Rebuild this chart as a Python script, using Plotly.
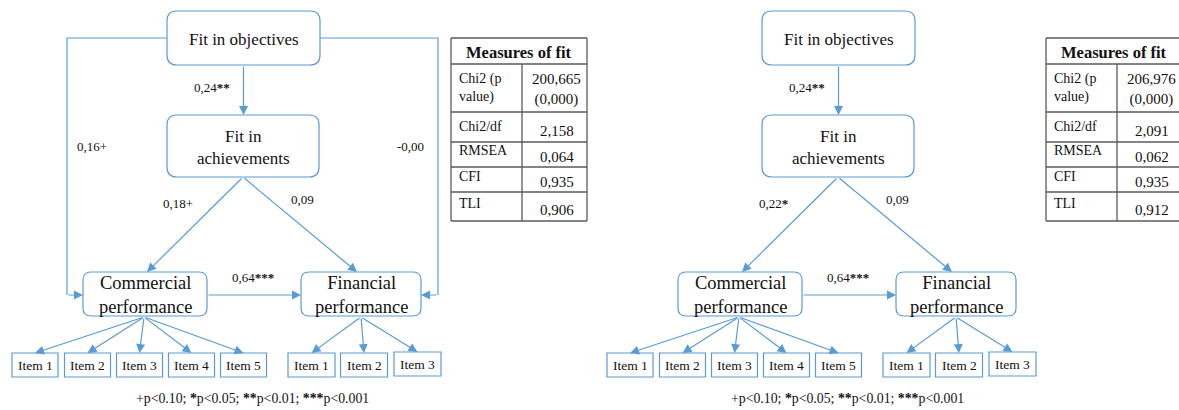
import re
import plotly.graph_objects as go

# ---- content ---------------------------------------------------------------
construct_labels = ["Fit in objectives", "Fit in<br>achievements",
                    "Commercial<br>performance", "Financial<br>performance"]
commercial_items = ["Item 1", "Item 2", "Item 3", "Item 4", "Item 5"]
financial_items = ["Item 1", "Item 2", "Item 3"]

# path coefficients: obj->ach, obj->com, obj->fin, ach->com, ach->fin, com->fin
coef_model_a = ["0,24**", "0,16+", "-0,00", "0,18+", "0,09", "0,64***"]
coef_model_b = ["0,24**", None, None, "0,22*", "0,09", "0,64***"]

fit_header = "Measures of fit"
fit_measures = ["Chi2 (p<br>value)", "Chi2/df", "RMSEA", "CFI", "TLI"]
fit_model_a = ["200,665<br>(0,000)", "2,158", "0,064", "0,935", "0,906"]
fit_model_b = ["206,976<br>(0,000)", "2,091", "0,062", "0,935", "0,912"]

significance_note = "+p<0.10; *p<0.05; **p<0.01; ***p<0.001"

# ---- styling ---------------------------------------------------------------
W, H = 1179, 410
BLUE = "#5b9bd5"
GRID = "#5a5a5a"
INK = "#111111"
FONT = "'Liberation Serif', 'Times New Roman', Tinos, 'DejaVu Serif', serif"
LW = 1.2

shapes = []
annotations = []


def stars_bold(t):
    return re.sub(r"(\*+)", r"<b>\1</b>", t)


def rounded_box(x0, y0, x1, y1, r):
    path = (f"M{x0+r},{y0} L{x1-r},{y0} Q{x1},{y0} {x1},{y0+r} "
            f"L{x1},{y1-r} Q{x1},{y1} {x1-r},{y1} L{x0+r},{y1} "
            f"Q{x0},{y1} {x0},{y1-r} L{x0},{y0+r} Q{x0},{y0} {x0+r},{y0} Z")
    shapes.append(dict(type="path", path=path, xref="x", yref="y",
                       line=dict(color=BLUE, width=LW), fillcolor="white",
                       layer="above"))


def square_box(x0, y0, x1, y1, color=BLUE, width=LW):
    shapes.append(dict(type="rect", x0=x0, y0=y0, x1=x1, y1=y1, xref="x",
                       yref="y", line=dict(color=color, width=width),
                       fillcolor="white", layer="above"))


def polyline(pts):
    path = "M" + " L".join(f"{x},{y}" for x, y in pts)
    shapes.append(dict(type="path", path=path, xref="x", yref="y",
                       line=dict(color=BLUE, width=LW), layer="below"))


def arrow(x0, y0, x1, y1):
    annotations.append(dict(x=x1, y=y1, ax=x0, ay=y0, xref="x", yref="y",
                            axref="x", ayref="y", text="", showarrow=True,
                            arrowhead=2, arrowsize=1.5, arrowwidth=LW,
                            arrowcolor=BLUE, standoff=0))


def text(x, y, s, size, xanchor="center", align="center", bold=False):
    if bold:
        s = f"<b>{s}</b>"
    annotations.append(dict(x=x, y=y, xref="x", yref="y", text=s,
                            showarrow=False, xanchor=xanchor, yanchor="middle",
                            align=align,
                            font=dict(family=FONT, size=size, color=INK)))


def diagram(dx, coefs, side_paths):
    # construct boxes
    obj = (167, 11, 320, 65)
    ach = (167, 115, 319, 177)
    com = (83, 272, 207, 316)
    fin = (301, 272, 421, 316)

    if side_paths:
        polyline([(obj[0] + dx, 38), (67 + dx, 38), (67 + dx, 295)])
        arrow(67 + dx, 295, com[0] + dx, 295)
        polyline([(obj[2] + dx, 38), (438 + dx, 38), (438 + dx, 295)])
        arrow(438 + dx, 295, fin[2] + dx, 295)

    for (x0, y0, x1, y1), lab, fs, r in zip(
            [obj, ach, com, fin], construct_labels, [17, 17, 18.5, 18.5],
            [10, 10, 8, 8]):
        rounded_box(x0 + dx, y0, x1 + dx, y1, r)
        text((x0 + x1) / 2 + dx, (y0 + y1) / 2 + 1, lab, fs)

    # structural paths
    arrow(243.5 + dx, obj[3], 243.5 + dx, ach[1])
    arrow(243 + dx, ach[3], 147 + dx, com[1])
    arrow(243 + dx, ach[3], 357 + dx, fin[1])
    arrow(com[2] + dx, 295, fin[0] + dx, 295)

    # measurement items
    com_x = [35, 87.5, 139.5, 191.5, 243.5]
    fin_x = [311.5, 364, 417.5]
    fin_top = [353, 353, 352]
    for cx, lab in zip(com_x, commercial_items):
        square_box(cx - 23 + dx, 353, cx + 23 + dx, 377)
        text(cx + dx, 365.5, lab, 13.5)
        arrow(144 + dx, com[3] + 1, cx + dx, 353)
    for cx, top, lab in zip(fin_x, fin_top, financial_items):
        square_box(cx - 23.5 + dx, top, cx + 23.5 + dx, top + 24)
        text(cx + dx, top + 12.5, lab, 13.5)
        arrow(361 + dx, fin[3] + 1, cx + dx, top)

    # coefficient labels
    spots = [(212, 87), (92, 146), (410, 146), (178, 203), (302, 199),
             (253, 277)]
    for (lx, ly), c in zip(spots, coefs):
        if c is not None:
            text(lx + dx, ly, stars_bold(c), 13)

    text(252 + dx, 398, stars_bold(significance_note), 13.8)


def fit_table(dx, values):
    x0, xm, x1 = 451 + dx, 522 + dx, 587 + dx
    rows = [38, 64, 112, 142, 167, 192, 221]
    for y in rows:
        shapes.append(dict(type="line", x0=x0, x1=x1, y0=y, y1=y, xref="x",
                           yref="y", line=dict(color=GRID, width=1.3),
                           layer="above"))
    shapes.append(dict(type="line", x0=x0, x1=x0, y0=rows[0], y1=rows[-1],
                       xref="x", yref="y", line=dict(color=GRID, width=1.3),
                       layer="above"))
    shapes.append(dict(type="line", x0=x1, x1=x1, y0=rows[0], y1=rows[-1],
                       xref="x", yref="y", line=dict(color=GRID, width=1.3),
                       layer="above"))
    shapes.append(dict(type="line", x0=xm, x1=xm, y0=rows[1], y1=rows[-1],
                       xref="x", yref="y", line=dict(color=GRID, width=1.3),
                       layer="above"))
    text((x0 + x1) / 2, 52, fit_header, 16.5, bold=True)
    label_y = [88, 126, 150, 176, 203]
    value_y = [89, 131, 157, 182, 210]
    for ly, vy, lab, val in zip(label_y, value_y, fit_measures, values):
        text(x0 + 6, ly, lab, 14, xanchor="left", align="left")
        text((xm + x1) / 2 + 2, vy, val, 15)


diagram(0, coef_model_a, True)
fit_table(0, fit_model_a)
diagram(595, coef_model_b, False)
fit_table(595, fit_model_b)

fig = go.Figure()
fig.add_trace(go.Scatter(x=[0, W], y=[0, H], mode="markers",
                         marker=dict(opacity=0), hoverinfo="skip",
                         showlegend=False))
fig.update_layout(
    width=W, height=H, margin=dict(l=0, r=0, t=0, b=0),
    paper_bgcolor="white", plot_bgcolor="white",
    font=dict(family=FONT),
    xaxis=dict(range=[0, W], visible=False, fixedrange=True),
    yaxis=dict(range=[H, 0], visible=False, fixedrange=True),
    shapes=shapes, annotations=annotations, showlegend=False,
)
fig.write_html("out.html")
